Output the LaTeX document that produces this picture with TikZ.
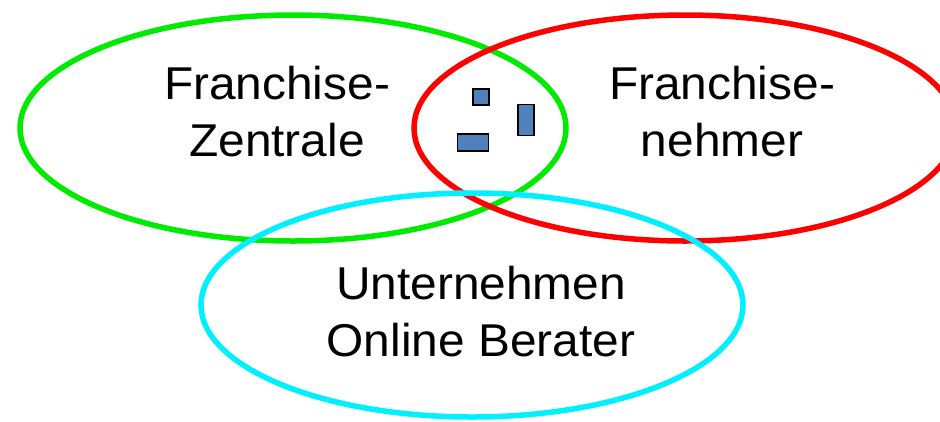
\documentclass[tikz,border=0pt]{standalone}
\usepackage{fontspec}
\setmainfont{Liberation Sans}[FakeStretch=1.04]
\usetikzlibrary{shapes.geometric}
\definecolor{vgreen}{RGB}{0,235,0}
\definecolor{vred}{RGB}{255,0,0}
\definecolor{vcyan}{RGB}{0,240,255}
\definecolor{boxblue}{RGB}{79,129,189}
\tikzset{
  venn/.style={ellipse, draw, line width=5.5pt, inner sep=0pt},
  lbl/.style={align=center, inner sep=0pt, font=\fontsize{46}{57}\selectfont},
  tok/.style={draw=black, fill=boxblue, line width=1.5pt, inner sep=0pt}
}
\begin{document}
\begin{tikzpicture}[x=1pt,y=-1pt]
\useasboundingbox (0,0) rectangle (940,421);
\clip (0,0) rectangle (940,421);
\node[venn, vgreen, minimum width=546pt, minimum height=226pt] (zen) at (293,128) {};
\node[venn, vred, minimum width=542pt, minimum height=226pt] (neh) at (685,128) {};
\node[venn, vcyan, minimum width=542pt, minimum height=224pt] (unt) at (472,305) {};
\node[lbl] (tzen) at (277,112) {Franchise-\\Zentrale};
\node[lbl] (tneh) at (722,112) {Franchise-\\nehmer};
\node[lbl] (tunt) at (481,312) {Unternehmen\\Online Berater};
\node[tok, minimum width=16pt, minimum height=16pt] (b1) at (481,97) {};
\node[tok, minimum width=16pt, minimum height=31pt] (b2) at (526,120) {};
\node[tok, minimum width=31pt, minimum height=17pt] (b3) at (473,142.5) {};
\end{tikzpicture}
\end{document}
